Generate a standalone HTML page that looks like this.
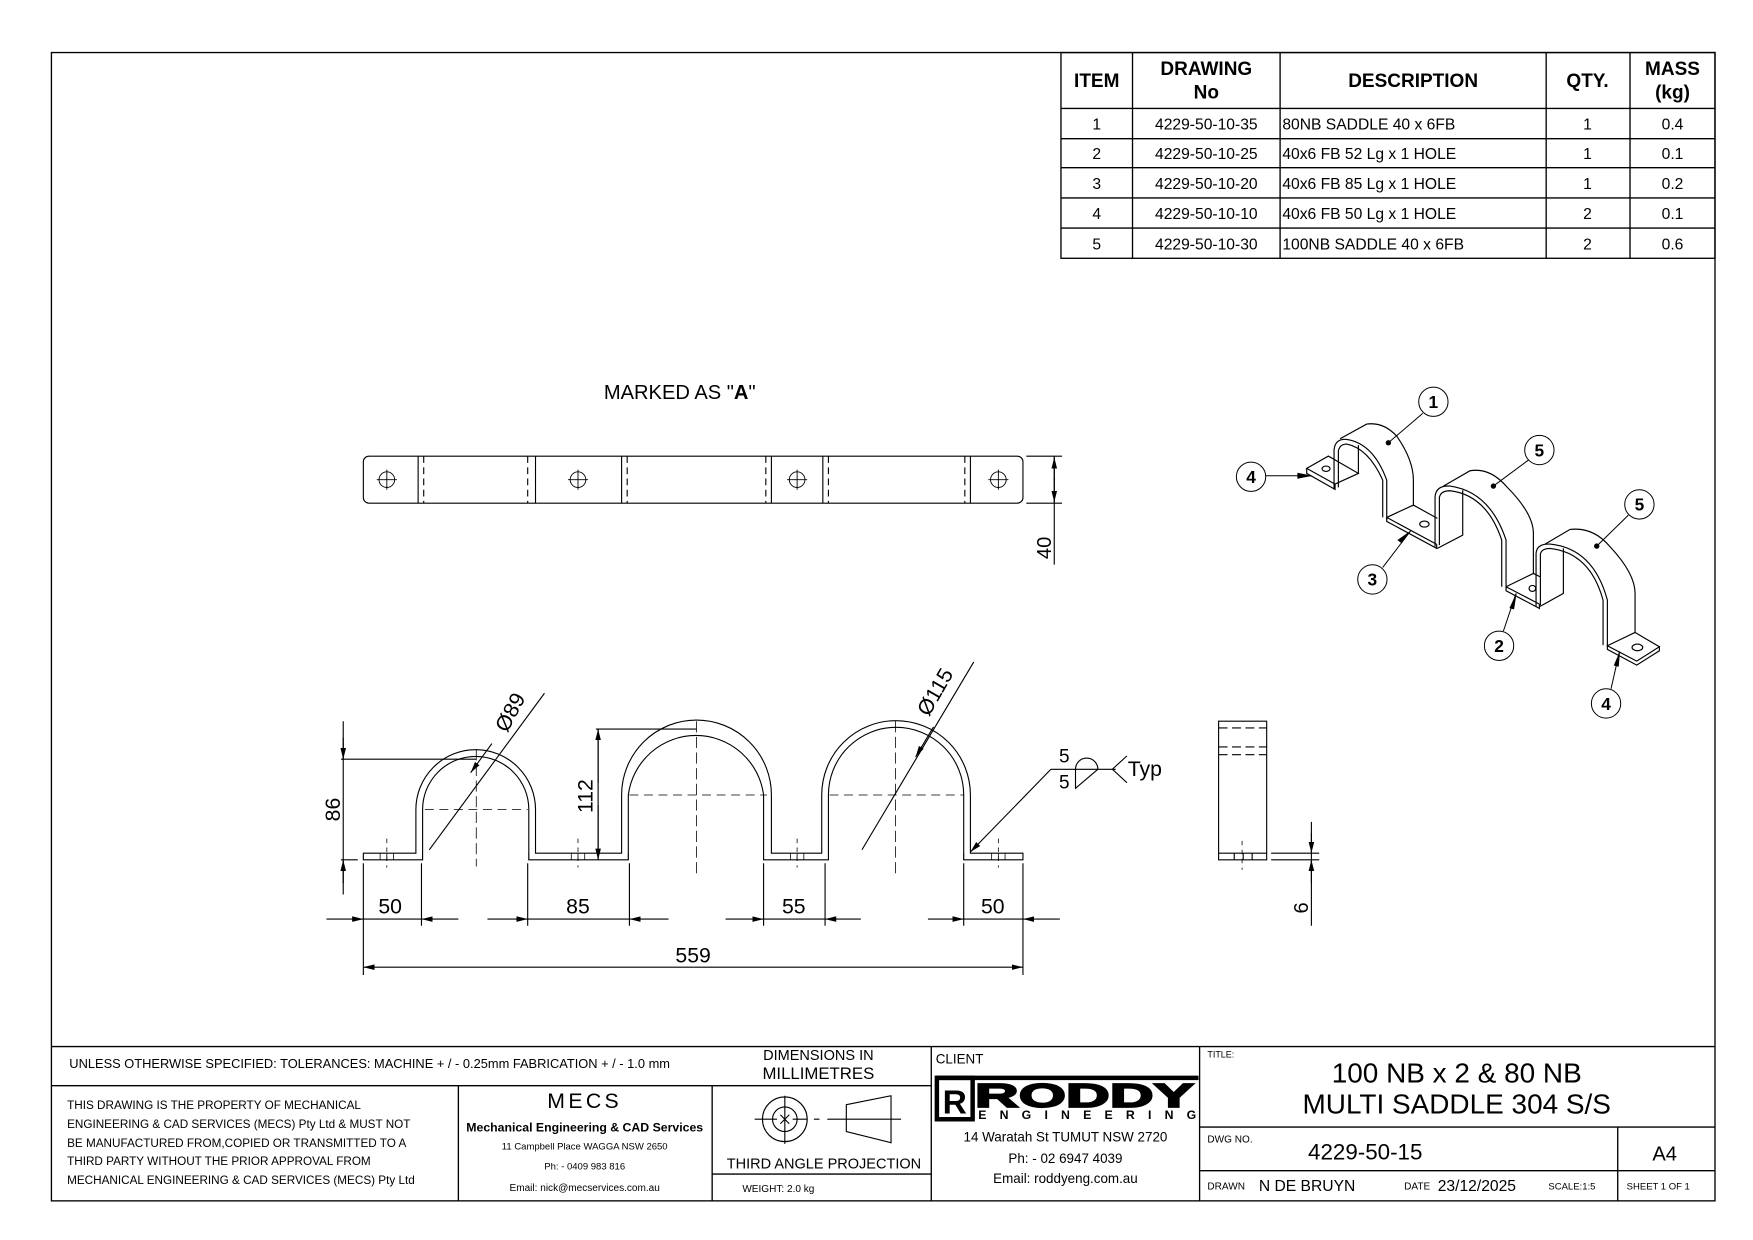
<!DOCTYPE html>
<html><head><meta charset="utf-8"><style>
html,body{margin:0;padding:0;background:#fff}
svg{display:block}
text{font-family:"Liberation Sans",sans-serif;fill:#000}
</style></head><body>
<svg width="1753" height="1240" viewBox="0 0 1568 1109" preserveAspectRatio="none" xmlns="http://www.w3.org/2000/svg">
<defs>
<marker id="ar" viewBox="0 0 10 6" refX="10" refY="3" markerWidth="10" markerHeight="6" orient="auto" markerUnits="userSpaceOnUse"><path d="M0,0.5 L10,3 L0,5.5z" fill="#000"/></marker>
</defs>
<rect x="0" y="0" width="1568" height="1109" fill="#fff"/>
<g fill="none" stroke="#000" stroke-width="1.2">
<rect x="46" y="47" width="1488" height="1027"/>
<rect x="949" y="47" width="585" height="184"/>
<path d="M1013,47V231M1145,47V231M1383,47V231M1458,47V231M949,97H1534M949,124H1534M949,150H1534M949,177H1534M949,204H1534"/>
</g>
<g font-size="17" font-weight="bold" text-anchor="middle">
<text x="981" y="78">ITEM</text>
<text x="1079" y="67">DRAWING</text><text x="1079" y="88">No</text>
<text x="1264" y="78">DESCRIPTION</text>
<text x="1420" y="78">QTY.</text>
<text x="1496" y="67">MASS</text><text x="1496" y="88">(kg)</text>
</g>
<g font-size="14">
<g text-anchor="middle">
<text x="981" y="116">1</text><text x="981" y="142">2</text><text x="981" y="169">3</text><text x="981" y="196">4</text><text x="981" y="223">5</text>
<text x="1079" y="116">4229-50-10-35</text><text x="1079" y="142">4229-50-10-25</text><text x="1079" y="169">4229-50-10-20</text><text x="1079" y="196">4229-50-10-10</text><text x="1079" y="223">4229-50-10-30</text>
<text x="1420" y="116">1</text><text x="1420" y="142">1</text><text x="1420" y="169">1</text><text x="1420" y="196">2</text><text x="1420" y="223">2</text>
<text x="1496" y="116">0.4</text><text x="1496" y="142">0.1</text><text x="1496" y="169">0.2</text><text x="1496" y="196">0.1</text><text x="1496" y="223">0.6</text>
</g>
<text x="1147" y="116">80NB SADDLE 40 x 6FB</text>
<text x="1147" y="142">40x6 FB 52 Lg x 1 HOLE</text>
<text x="1147" y="169">40x6 FB 85 Lg x 1 HOLE</text>
<text x="1147" y="196">40x6 FB 50 Lg x 1 HOLE</text>
<text x="1147" y="223">100NB SADDLE 40 x 6FB</text>
</g>

<!-- Top view -->
<text x="608" y="357" font-size="18" text-anchor="middle">MARKED AS "<tspan font-weight="bold">A</tspan>"</text>
<g fill="none" stroke="#000" stroke-width="1">
<rect x="325" y="408" width="590" height="42" rx="5"/>
<path d="M374,408V450M479,408V450M556,408V450M690,408V450M736,408V450M868,408V450"/>
<path d="M379,408V450M472,408V450M561,408V450M685,408V450M741,408V450M863,408V450" stroke-dasharray="6,4"/>
<g stroke-width="0.8">
<circle cx="346" cy="429" r="7"/><path d="M337,429H355M346,420V438"/>
<circle cx="517" cy="429" r="7"/><path d="M508,429H526M517,420V438"/>
<circle cx="713" cy="429" r="7"/><path d="M704,429H722M713,420V438"/>
<circle cx="893" cy="429" r="7"/><path d="M884,429H902M893,420V438"/>
</g>
<path d="M918,408H950M918,450H950M943,408V505"/>
<path d="M943,430V409" marker-end="url(#ar)"/>
<path d="M943,428V449" marker-end="url(#ar)"/>
</g>
<text transform="translate(940,490) rotate(-90)" font-size="18" text-anchor="middle">40</text>

<!-- Front view -->
<g fill="none" stroke="#000" stroke-width="1">
<path d="M325,763H372V724A53.5,53.5 0 0 1 479,724V763H556V711A67,67 0 0 1 690,711V763H735V711A66.5,66.5 0 0 1 868,711V763H915V769H862V711A60.5,60.5 0 0 0 741,711V769H683V711A61,61 0 0 0 562,711V769H473V724A47.5,47.5 0 0 0 378,724V769H325Z"/>
<g stroke-width="0.7">
<path d="M378,763V769M473,763V769M562,763V769M683,763V769M741,763V769M862,763V769"/>
<path d="M340,763V769M346,763V769M352,763V769M511,763V769M517,763V769M523,763V769M707,763V769M713,763V769M719,763V769M887,763V769M893,763V769M899,763V769"/>
<path d="M346,750V776M517,750V776M713,750V776M893,750V776" stroke-dasharray="4,4"/>
<path d="M426,670V775M623,645V782M801,645V782" stroke-dasharray="10,4"/>
<path d="M380,724H472M563,711H686M742,711H862" stroke-dasharray="8,5"/>
</g>
<path d="M305,679H426M305,769H320M307,645V800"/>
<path d="M307,660V679" marker-end="url(#ar)"/>
<path d="M307,790V769" marker-end="url(#ar)"/>
<path d="M533,652H623M535,652V769"/>
<path d="M535,700V652" marker-end="url(#ar)"/>
<path d="M535,720V769" marker-end="url(#ar)"/>
<path d="M384,760L487,620"/>
<path d="M440,665L421,691" marker-end="url(#ar)"/>
<path d="M771,760L871,592"/>
<path d="M835,650L819,677" marker-end="url(#ar)"/>
<path d="M940,688L868,762" marker-end="url(#ar)"/>
<path d="M940,688H998M962,688L962,705L982,688M962,688A9,9 0 0 1 982,688M1008,676L995,688L1008,700"/>
<path d="M325,772V872M377,772V828M472,772V828M563,772V828M683,772V828M738,772V828M862,772V828M915,772V872"/>
<path d="M292,822H325" marker-end="url(#ar)"/>
<path d="M410,822H377" marker-end="url(#ar)"/>
<path d="M436,822H472" marker-end="url(#ar)"/>
<path d="M598,822H563" marker-end="url(#ar)"/>
<path d="M649,822H683" marker-end="url(#ar)"/>
<path d="M770,822H738" marker-end="url(#ar)"/>
<path d="M830,822H862" marker-end="url(#ar)"/>
<path d="M948,822H915" marker-end="url(#ar)"/>
<path d="M325,822H377M472,822H563M683,822H738M862,822H915"/>
<path d="M620,865H325" marker-end="url(#ar)"/>
<path d="M620,865H915" marker-end="url(#ar)"/>
</g>
<g font-size="19" text-anchor="middle">
<text transform="translate(304,724) rotate(-90)">86</text>
<text transform="translate(530,712) rotate(-90)">112</text>
<text transform="translate(462,640) rotate(-62)">Ø89</text>
<text transform="translate(842,622) rotate(-60)">Ø115</text>
<text x="349" y="817">50</text><text x="517" y="817">85</text><text x="710" y="817">55</text><text x="888" y="817">50</text>
<text x="620" y="861">559</text>
<text x="952" y="682" font-size="17">5</text><text x="952" y="705" font-size="17">5</text>
<text x="1024" y="694" text-anchor="middle">Typ</text>
</g>

<!-- Side view -->
<g fill="none" stroke="#000" stroke-width="1">
<rect x="1090" y="645" width="43" height="124"/>
<path d="M1090,763H1133M1104,763V769M1112,763V769M1120,763V769"/>
<path d="M1090,651H1133M1090,668H1133M1090,675H1133" stroke-dasharray="8,4"/>
<path d="M1111,752V778" stroke-dasharray="4,4" stroke-width="0.7"/>
<path d="M1137,763H1180M1137,769H1180M1173,735V828"/>
<path d="M1173,745V763" marker-end="url(#ar)"/>
<path d="M1173,790V769" marker-end="url(#ar)"/>
</g>
<text transform="translate(1170,812) rotate(-90)" font-size="18" text-anchor="middle">6</text>

<!-- Iso view -->
<g transform="scale(0.8945) translate(1200,380) scale(0.33333)" fill="none" stroke="#000" stroke-width="3.5">
<path d="M320,265L385,228L475,280L405,312L320,265ZM320,265V280L405,328V312"/>
<ellipse cx="378" cy="266" rx="12" ry="8"/>
<path d="M402,328V210Q405,175 440,178Q520,190 560,300V418"/>
<path d="M415,322V212Q420,192 440,192Q505,205 548,300V412"/>
<path d="M420,176L500,132Q550,125 590,168Q640,240 640,300V378"/>
<path d="M475,195V280"/>
<path d="M560,412L640,375L712,415M560,412V424L710,505V493M560,412L710,493"/>
<ellipse cx="673" cy="432" rx="14" ry="9"/>
<path d="M705,500V350Q708,315 750,318Q870,335 918,480V625"/>
<path d="M718,495V352Q722,332 750,332Q860,345 905,480V620"/>
<path d="M730,318L810,272Q870,262 920,320Q1000,400 1000,460V582"/>
<path d="M788,330V465L712,505"/>
<path d="M918,620L1000,580L1020,590M918,620V632L1018,685V672M918,620L1018,672"/>
<ellipse cx="997" cy="625" rx="10" ry="9"/>
<path d="M1008,680V520Q1010,490 1050,492Q1180,505 1222,660V800"/>
<path d="M1021,675V522Q1025,505 1050,505Q1170,518 1209,660V795"/>
<path d="M1035,492L1110,448Q1180,440 1230,500Q1305,580 1305,640V757"/>
<path d="M1090,505V640L1018,680"/>
<path d="M1222,797L1305,757L1378,800L1310,843ZM1222,797V808L1310,855L1378,812V800"/>
<ellipse cx="1312" cy="802" rx="16" ry="10"/>
<g stroke-width="3">
<circle cx="700" cy="65" r="44"/><circle cx="1018" cy="210" r="44"/><circle cx="1318" cy="373" r="44"/>
<circle cx="153" cy="290" r="44"/><circle cx="517" cy="598" r="44"/><circle cx="897" cy="797" r="44"/><circle cx="1218" cy="970" r="44"/>
<path d="M668,100L565,188M985,240L880,318M1285,405L1190,498"/>
<path d="M197,287H335M548,562L632,452M910,753L948,640M1233,926L1258,815"/>
</g>
<g fill="#000" stroke="none">
<circle cx="565" cy="188" r="8"/><circle cx="880" cy="318" r="8"/><circle cx="1190" cy="498" r="8"/>
<path d="M338,287L292,278L292,296Z"/><path d="M634,450L605,490L592,480Z"/><path d="M950,637L942,688L928,684Z"/><path d="M1260,812L1256,860L1241,856Z"/>
</g>
<g font-size="52" font-weight="bold" text-anchor="middle" stroke="none" fill="#000">
<text x="700" y="84">1</text><text x="1018" y="229">5</text><text x="1318" y="392">5</text><text x="153" y="309">4</text><text x="517" y="617">3</text><text x="897" y="816">2</text><text x="1218" y="989">4</text>
</g>
</g>

<!-- Title block -->
<g fill="none" stroke="#000" stroke-width="1.2">
<path d="M46,936H1534M46,971H833M410,971V1074M637,971V1074M637,1050H833M833,936V1074M1073,936V1074M1073,1008H1534M1073,1047H1534M1447,1008V1074"/>
</g>
<text x="62" y="955" font-size="11.5">UNLESS OTHERWISE SPECIFIED: TOLERANCES: MACHINE + / - 0.25mm  FABRICATION + / - 1.0 mm</text>
<text x="732" y="948" font-size="13" text-anchor="middle">DIMENSIONS IN</text>
<text x="732" y="965" font-size="15" text-anchor="middle">MILLIMETRES</text>
<g font-size="10.5">
<text x="60" y="992">THIS DRAWING IS THE PROPERTY OF MECHANICAL</text>
<text x="60" y="1009">ENGINEERING &amp; CAD SERVICES (MECS) Pty Ltd &amp; MUST NOT</text>
<text x="60" y="1026">BE MANUFACTURED FROM,COPIED OR TRANSMITTED TO A</text>
<text x="60" y="1042">THIRD PARTY WITHOUT THE PRIOR APPROVAL FROM</text>
<text x="60" y="1059">MECHANICAL ENGINEERING &amp; CAD SERVICES (MECS) Pty Ltd</text>
</g>
<g text-anchor="middle">
<text x="523" y="991" font-size="19" letter-spacing="3">MECS</text>
<text x="523" y="1012" font-size="11" font-weight="bold">Mechanical Engineering &amp; CAD Services</text>
<text x="523" y="1028" font-size="8.5">11 Campbell Place WAGGA NSW 2650</text>
<text x="523" y="1046" font-size="8.5">Ph: - 0409 983 816</text>
<text x="523" y="1065" font-size="9">Email: nick@mecservices.com.au</text>
<text x="737" y="1045" font-size="13">THIRD ANGLE PROJECTION</text>
</g>
<text x="664" y="1066" font-size="9">WEIGHT: 2.0 kg</text>
<g fill="none" stroke="#000" stroke-width="1">
<circle cx="702" cy="1001" r="20"/><circle cx="702" cy="1001" r="11"/>
<path d="M675,1001H695M709,1001H722M702,980V1023M728,1001H733M740,1001H806M757,988L797,980V1022L757,1012Z"/>
<path d="M698,997L706,1005M706,997L698,1005"/>
</g>
<text x="837" y="951" font-size="12">CLIENT</text>
<rect x="837" y="962" width="235" height="4" fill="#000"/>
<rect x="838" y="964" width="32" height="37" fill="none" stroke="#000" stroke-width="4"/>
<text x="854" y="996" font-size="30" font-weight="bold" text-anchor="middle">R</text>
<text x="970" y="990" font-size="30" font-weight="900" text-anchor="middle" textLength="196" lengthAdjust="spacingAndGlyphs" stroke="#000" stroke-width="1.5">RODDY</text>
<text x="875" y="1001" font-size="11" font-weight="bold" textLength="195" lengthAdjust="spacing">ENGINEERING</text>
<g font-size="12" text-anchor="middle">
<text x="953" y="1021">14 Waratah St TUMUT NSW 2720</text>
<text x="953" y="1040">Ph: - 02 6947 4039</text>
<text x="953" y="1058">Email: roddyeng.com.au</text>
</g>
<text x="1080" y="946" font-size="8">TITLE:</text>
<text x="1303" y="968" font-size="25" text-anchor="middle">100 NB x 2 &amp; 80 NB</text>
<text x="1303" y="996" font-size="25" text-anchor="middle">MULTI SADDLE 304 S/S</text>
<text x="1080" y="1022" font-size="9">DWG NO.</text>
<text x="1170" y="1037" font-size="20">4229-50-15</text>
<text x="1489" y="1038" font-size="18" text-anchor="middle">A4</text>
<text x="1080" y="1064" font-size="9">DRAWN</text>
<text x="1126" y="1065" font-size="14">N DE BRUYN</text>
<text x="1256" y="1064" font-size="9">DATE</text>
<text x="1286" y="1065" font-size="14">23/12/2025</text>
<text x="1385" y="1064" font-size="8.5">SCALE:1:5</text>
<text x="1455" y="1064" font-size="8.5">SHEET 1 OF 1</text>
</svg>
</body></html>
